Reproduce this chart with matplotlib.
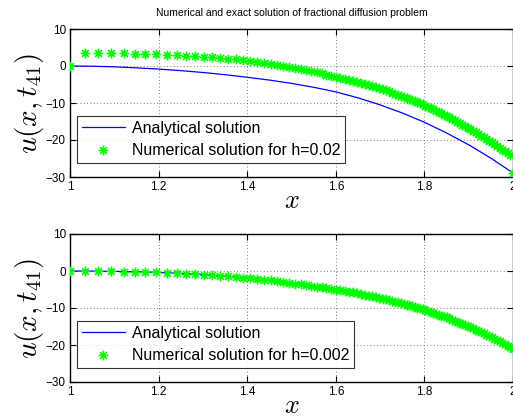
import matplotlib
matplotlib.use("Agg")
import matplotlib.pyplot as plt
from matplotlib.path import Path

plt.rcParams['font.family'] = ['Liberation Sans', 'DejaVu Sans']
plt.rcParams['mathtext.fontset'] = 'cm'

title = "Numerical and exact solution of fractional diffusion problem"
xticks = [1, 1.2, 1.4, 1.6, 1.8, 2]
xtick_labels = ["1", "1.2", "1.4", "1.6", "1.8", "2"]
yticks = [-30, -20, -10, 0, 10]

# analytical solutions
xa = [1.00, 1.05, 1.10, 1.15, 1.20, 1.25, 1.30, 1.35, 1.40, 1.45, 1.50,
      1.55, 1.60, 1.65, 1.70, 1.75, 1.80, 1.85, 1.90, 1.95, 2.00]
ua_top = [0, -0.06, -0.22, -0.50, -0.83, -1.25, -1.75, -2.35, -3.05, -3.8, -4.7,
          -5.75, -7.0, -8.6, -10.5, -12.7, -15.2, -18.1, -21.3, -24.9, -28.9]
ua_bot = [0, -0.03, -0.10, -0.22, -0.38, -0.63, -0.95, -1.38, -1.90, -2.53, -3.25,
          -4.08, -5.00, -6.08, -7.30, -8.80, -10.50, -12.60, -15.00, -17.85, -21.00]

# numerical solution nodes (graded mesh)
xn = [1.000, 1.034, 1.064, 1.093, 1.121, 1.146, 1.170, 1.195, 1.219, 1.241,
      1.262, 1.283, 1.302, 1.321, 1.339, 1.357, 1.374, 1.391, 1.407, 1.423,
      1.438, 1.453, 1.467, 1.481, 1.495, 1.508, 1.521, 1.533, 1.545, 1.557,
      1.568, 1.579, 1.590, 1.600, 1.610, 1.620, 1.630, 1.639, 1.648, 1.657,
      1.666, 1.674, 1.682, 1.690, 1.698, 1.706, 1.713, 1.720, 1.727, 1.734,
      1.741, 1.748, 1.754, 1.760, 1.766, 1.772, 1.778, 1.784, 1.790, 1.796,
      1.802, 1.808, 1.814, 1.820, 1.826, 1.832, 1.838, 1.844, 1.850, 1.856,
      1.862, 1.868, 1.874, 1.880, 1.886, 1.892, 1.898, 1.904, 1.910, 1.916,
      1.922, 1.928, 1.934, 1.940, 1.946, 1.952, 1.958, 1.964, 1.970, 1.976,
      1.982, 1.988, 1.994, 2.000]

un_top = [0.00, 3.60, 3.57, 3.52, 3.44, 3.37, 3.28, 3.17, 3.05, 2.93,
          2.80, 2.66, 2.53, 2.37, 2.19, 2.00, 1.79, 1.57, 1.35, 1.11,
          0.86, 0.60, 0.33, 0.05, -0.24, -0.53, -0.83, -1.11, -1.41, -1.72,
          -2.01, -2.31, -2.61, -2.90, -3.19, -3.49, -3.80, -4.08, -4.36, -4.65,
          -4.95, -5.21, -5.48, -5.75, -6.03, -6.33, -6.61, -6.89, -7.18, -7.47,
          -7.78, -8.09, -8.36, -8.63, -8.91, -9.20, -9.49, -9.79, -10.09, -10.39,
          -10.71, -11.04, -11.37, -11.71, -12.06, -12.41, -12.77, -13.13, -13.50, -13.88,
          -14.26, -14.64, -15.03, -15.43, -15.84, -16.25, -16.66, -17.08, -17.51, -17.94,
          -18.38, -18.82, -19.27, -19.73, -20.19, -20.66, -21.13, -21.61, -22.09, -22.58,
          -23.08, -23.58, -24.09, -28.90]

un_bot = [0.00, -0.01, -0.04, -0.09, -0.15, -0.21, -0.28, -0.36, -0.46, -0.56,
          -0.68, -0.82, -0.97, -1.12, -1.28, -1.45, -1.62, -1.80, -1.98, -2.17,
          -2.36, -2.56, -2.75, -2.96, -3.17, -3.38, -3.59, -3.79, -4.00, -4.21,
          -4.40, -4.60, -4.81, -5.00, -5.20, -5.40, -5.61, -5.81, -6.01, -6.22,
          -6.43, -6.63, -6.83, -7.04, -7.25, -7.46, -7.66, -7.86, -8.06, -8.27,
          -8.49, -8.71, -8.90, -9.10, -9.30, -9.50, -9.71, -9.92, -10.13, -10.35,
          -10.57, -10.80, -11.04, -11.28, -11.52, -11.77, -12.03, -12.29, -12.56, -12.83,
          -13.11, -13.39, -13.68, -13.98, -14.28, -14.58, -14.90, -15.21, -15.54, -15.86,
          -16.20, -16.53, -16.88, -17.23, -17.58, -17.94, -18.30, -18.67, -19.05, -19.43,
          -19.81, -20.20, -20.60, -21.00]

labels_top = ["Analytical solution", "Numerical solution for h=0.02"]
labels_bot = ["Analytical solution", "Numerical solution for h=0.002"]

# MATLAB-style asterisk marker: '+' and 'x' superimposed
d = 0.7071
ast_verts = [(-1, 0), (1, 0), (0, -1), (0, 1), (-d, -d), (d, d), (-d, d), (d, -d)]
ast_codes = [Path.MOVETO, Path.LINETO] * 4
asterisk = Path(ast_verts, ast_codes)

fig = plt.figure(figsize=(5.13, 4.17), dpi=100)
ax1 = fig.add_axes([70/513, 240/417, 443/513, 148/417])
ax2 = fig.add_axes([70/513, 35/417, 443/513, 148/417])

for ax, ua, un, labs in [(ax1, ua_top, un_top, labels_top), (ax2, ua_bot, un_bot, labels_bot)]:
    ax.plot(xa, ua, color='#0000ff', lw=0.9, label=labs[0], zorder=2)
    ax.plot(xn, un, linestyle='none', marker=asterisk, markersize=7,
            markeredgecolor='#00ff00', markerfacecolor='none', markeredgewidth=1.2,
            label=labs[1], zorder=3)
    ax.set_xlim(1, 2)
    ax.set_ylim(-30, 10)
    ax.set_xticks(xticks)
    ax.set_xticklabels(xtick_labels)
    ax.set_yticks(yticks)
    ax.tick_params(direction='in', top=True, right=True, labelsize=8.5,
                   length=4, width=0.8, pad=3)
    ax.grid(True, linestyle=(0, (1, 3)), color='#555555', linewidth=0.6)
    for s in ax.spines.values():
        s.set_linewidth(1.0)
    ax.set_xlabel('$x$', fontsize=19, labelpad=-3)
    ax.set_ylabel('$u(x,t_{41})$', fontsize=21, labelpad=0)
    leg = ax.legend(loc='lower left', bbox_to_anchor=(0.016, 0.095), borderaxespad=0,
                    fontsize=11.5, frameon=True, fancybox=False, edgecolor='black',
                    handlelength=2.7, handletextpad=0.45, borderpad=0.3,
                    labelspacing=0.45)
    leg.get_frame().set_linewidth(0.8)

ax1.set_title(title, fontsize=7.5, pad=9)

fig.savefig('out.png', dpi=100)
